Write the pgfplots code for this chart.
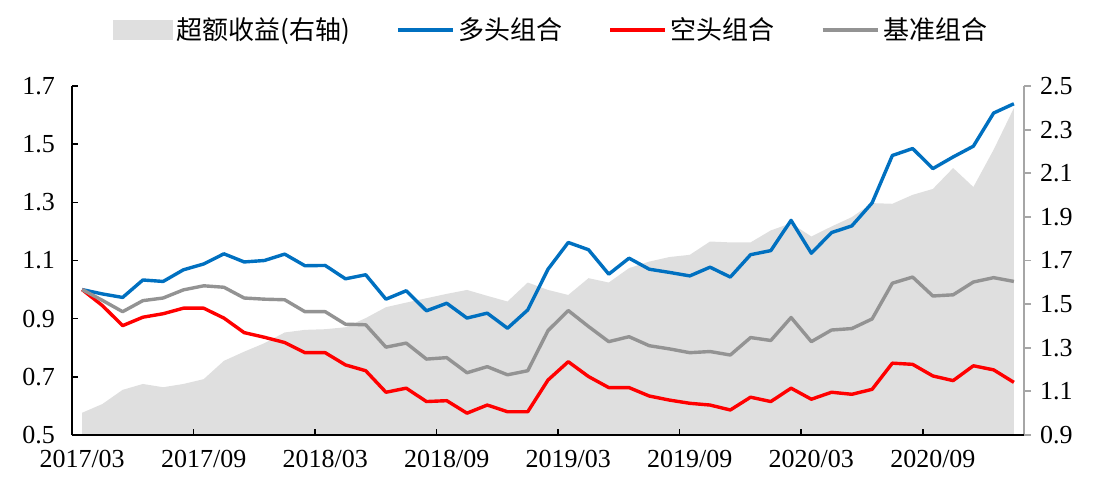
\documentclass[border=0pt]{standalone}
\usepackage{pgfplots}
\usepackage{pgfplotstable}
\pgfplotsset{compat=1.18}
\usepackage{fontspec}
\setmainfont{Liberation Serif}
\newfontfamily\cjk{Noto Sans CJK SC}

\definecolor{longblue}{HTML}{0070C0}
\definecolor{shortred}{HTML}{FF0000}
\definecolor{benchgray}{HTML}{939393}
\definecolor{areagray}{HTML}{DFDFDF}
\definecolor{raxis}{HTML}{A6A6A6}

% i = month index from 2017/03
\pgfplotstableread{
i  excess long  short bench
0  1.002  1.000 1.000 1.000
1  1.042  0.985 0.945 0.963
2  1.107  0.973 0.876 0.924
3  1.134  1.033 0.905 0.962
4  1.119  1.028 0.917 0.971
5  1.134  1.068 0.936 0.999
6  1.156  1.088 0.936 1.013
7  1.240  1.123 0.902 1.008
8  1.282  1.095 0.852 0.971
9  1.321  1.100 0.836 0.967
10 1.370  1.122 0.818 0.965
11 1.382  1.082 0.783 0.924
12 1.385  1.083 0.783 0.924
13 1.394  1.037 0.741 0.881
14 1.436  1.051 0.721 0.879
15 1.486  0.967 0.647 0.802
16 1.507  0.996 0.661 0.816
17 1.527  0.927 0.615 0.761
18 1.547  0.953 0.618 0.766
19 1.565  0.902 0.575 0.714
20 1.538  0.919 0.603 0.735
21 1.512  0.867 0.580 0.707
22 1.599  0.930 0.580 0.721
23 1.565  1.070 0.689 0.859
24 1.542  1.162 0.752 0.928
25 1.619  1.137 0.701 0.873
26 1.599  1.053 0.663 0.821
27 1.665  1.108 0.663 0.838
28 1.695  1.070 0.634 0.807
29 1.716  1.059 0.620 0.796
30 1.726  1.047 0.609 0.783
31 1.787  1.077 0.603 0.787
32 1.783  1.043 0.586 0.775
33 1.783  1.120 0.630 0.835
34 1.838  1.134 0.615 0.825
35 1.871  1.238 0.661 0.904
36 1.810  1.125 0.623 0.821
37 1.856  1.196 0.647 0.861
38 1.899  1.219 0.640 0.866
39 1.963  1.298 0.657 0.899
40 1.960  1.461 0.747 1.022
41 2.001  1.485 0.743 1.043
42 2.028  1.416 0.703 0.978
43 2.124  1.456 0.687 0.982
44 2.037  1.493 0.738 1.026
45 2.208  1.607 0.724 1.041
46 2.399  1.639 0.681 1.028
}\datatable

\begin{document}
\begin{tikzpicture}

% right axis: excess return area
\begin{axis}[
    width=476pt, height=174.5pt,
    scale only axis,
    xmin=-0.5, xmax=46.5,
    ymin=0.9, ymax=2.5,
    axis x line=none,
    axis y line*=right,
    y axis line style={raxis, line width=0.9pt},
    ytick={0.9,1.1,1.3,1.5,1.7,1.9,2.1,2.3,2.5},
    tick align=outside,
    major tick length=3.5pt,
    y tick style={raxis, line width=0.9pt},
    yticklabel style={font=\fontsize{13}{15}\selectfont, xshift=1pt,
        /pgf/number format/.cd, fixed, fixed zerofill, precision=1, assume math mode=true},
]
\addplot[fill=areagray, draw=none] table[x=i, y=excess] {\datatable} \closedcycle;
\end{axis}

% left axis: portfolios
\begin{axis}[
    width=476pt, height=174.5pt,
    scale only axis,
    xmin=-0.5, xmax=46.5,
    ymin=0.5, ymax=1.7,
    axis x line*=bottom,
    axis y line*=left,
    axis line style={black, line width=0.9pt},
    tick align=inside,
    major tick length=3.2pt,
    tick style={black, line width=0.8pt},
    xtick={0,6,12,18,24,30,36,42},
    xticklabels={2017/03,2017/09,2018/03,2018/09,2019/03,2019/09,2020/03,2020/09},
    x tick style={xshift=-5.06pt},
    ytick={0.5,0.7,0.9,1.1,1.3,1.5,1.7},
    xticklabel style={font=\fontsize{13}{15}\selectfont, yshift=-4pt},
    yticklabel style={font=\fontsize{13}{15}\selectfont, xshift=-5pt,
        /pgf/number format/.cd, fixed, fixed zerofill, precision=1, assume math mode=true},
    legend columns=4,
    legend style={at={(0.5,1)}, anchor=center, yshift=28pt, xshift=2pt,
        draw=none, fill=none, font=\cjk\fontsize{13}{15}\selectfont,
        /tikz/every even column/.append style={column sep=21pt}},
    legend image code/.code={\draw[#1] (0pt,0pt) -- (27.5pt,0pt);},
]
\coordinate (bl) at (rel axis cs:0,0);
\coordinate (tr) at (rel axis cs:1,1);
\addlegendimage{legend image code/.code={\fill[areagray] (0pt,-4.8pt) rectangle (29.5pt,4.8pt);}}
\addlegendentry{超额收益(右轴)}
\addplot[longblue, line width=1.7pt, line join=round] table[x=i, y=long] {\datatable};
\addlegendentry{多头组合}
\addplot[shortred, line width=1.7pt, line join=round] table[x=i, y=short] {\datatable};
\addlegendentry{空头组合}
\addplot[benchgray, line width=1.7pt, line join=round] table[x=i, y=bench] {\datatable};
\addlegendentry{基准组合}
\end{axis}

\pgfresetboundingbox
\path[use as bounding box] ([xshift=-36pt,yshift=-25.5pt]bl) rectangle ([xshift=37pt,yshift=43pt]tr);
\end{tikzpicture}
\end{document}
